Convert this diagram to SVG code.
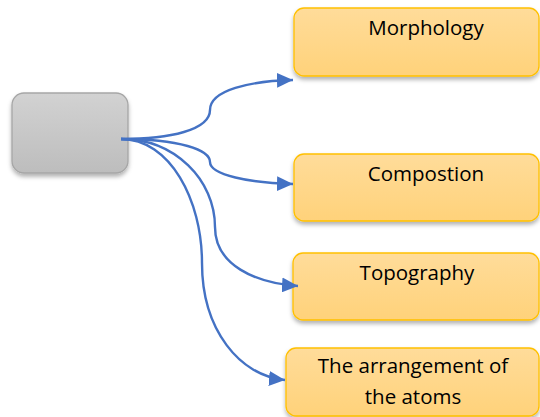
<svg xmlns="http://www.w3.org/2000/svg" width="540" height="417" viewBox="0 0 540 417">
<defs>
<linearGradient id="gOr" x1="0" y1="0" x2="0" y2="1"><stop offset="0" stop-color="#FFDC9A"/><stop offset="1" stop-color="#FFD27A"/></linearGradient>
<linearGradient id="gGr" x1="0" y1="0" x2="0" y2="1"><stop offset="0" stop-color="#D2D2D2"/><stop offset="1" stop-color="#BDBDBD"/></linearGradient>
<filter id="sh" x="-10%" y="-10%" width="120%" height="130%"><feDropShadow dx="0" dy="3" stdDeviation="2" flood-color="#000" flood-opacity="0.3"/></filter>
<marker id="ah" markerUnits="userSpaceOnUse" markerWidth="17" markerHeight="15" refX="16" refY="7.5" orient="auto"><path d="M0,0 L16,7.5 L0,15 Z" fill="#4472C4"/></marker>
</defs>
<style>
.box{fill:url(#gOr);stroke:#FFC000;stroke-width:1.3;filter:url(#sh)}
.src{fill:url(#gGr);stroke:#A6A6A6;stroke-width:1.3;filter:url(#sh)}
.t{font-family:"Open Sans","Liberation Sans",sans-serif;font-size:20.5px;fill:#000;text-anchor:middle}
.c{fill:none;stroke:#4472C4;stroke-width:2.4;marker-end:url(#ah)}
</style>
<g id="source"><rect class="src" x="12" y="93" width="116" height="80" rx="12"/></g>
<g id="morphology"><rect class="box" x="294" y="8" width="245" height="68" rx="10"/><text class="t" x="426" y="35">Morphology</text></g>
<g id="compostion"><rect class="box" x="294" y="154" width="245" height="67" rx="10"/><text class="t" x="426" y="181">Compostion</text></g>
<g id="topography"><rect class="box" x="293" y="253" width="246" height="67" rx="10"/><text class="t" x="417" y="280">Topography</text></g>
<g id="arrangement"><rect class="box" x="286" y="348" width="253" height="68" rx="10"/><text class="t" x="413" y="373">The arrangement of</text><text class="t" x="413" y="404">the atoms</text></g>
<g id="connectors">
<path class="c" d="M121,139 C170,139 210,130 210,110 C210,90 250,81 293,80"/>
<path class="c" d="M121,139 C180,139 210,150 210,162 C210,175 250,183 293,184"/>
<path class="c" d="M121,139 C175,139 215,180 215,227 C215,265 255,283 298,286"/>
<path class="c" d="M121,139 C170,139 202,200 202,263 C202,330 240,376 285,380"/>
</g>
</svg>
